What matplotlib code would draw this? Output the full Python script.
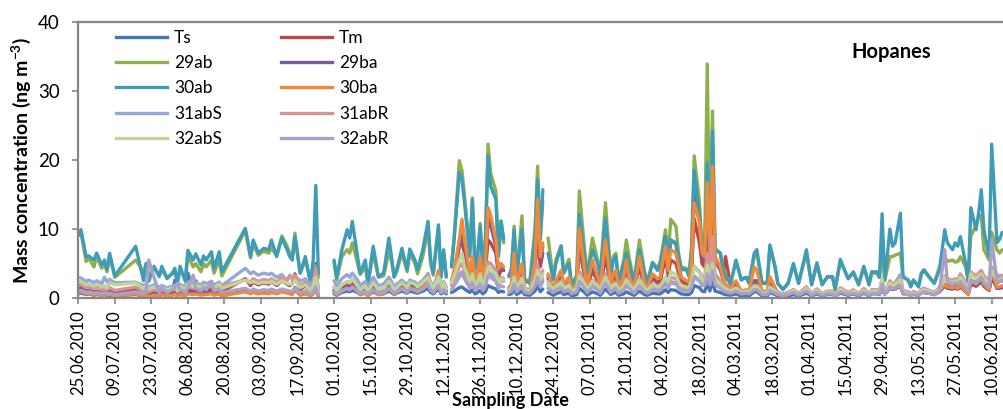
import numpy as np
import matplotlib
matplotlib.use("Agg")
import matplotlib.pyplot as plt
import matplotlib.dates as mdates
from matplotlib.lines import Line2D

nan = np.nan
start_date = "2010-06-25"

# sampling day offsets from 25.06.2010 (nan values mark gaps in the record)
day_offsets = [
    0, 1, 3, 4, 6, 7, 9, 10, 11, 12,
    14, 22, 25, 26, 27, 29, 31, 32, 34, 36,
    37, 38, 39, 41, 42, 44, 45, 47, 48, 49,
    51, 52, 54, 55, 64, 66, 67, 69, 71, 73,
    74, 76, 78, 80, 81, 82, 83, 85, 86, 87,
    89, 90, 91, 92, 95, 98, 99, 101, 103, 104,
    105, 107, 108, 110, 111, 113, 115, 117, 119, 120,
    121, 122, 124, 126, 127, 129, 130, 132, 134, 135,
    136, 138, 139, 140, 141, 142, 143, 144, 146, 147,
    148, 150, 151, 152, 153, 154, 155, 156, 157, 158,
    160, 161, 162, 163, 164, 165, 166, 167, 168, 170,
    171, 173, 175, 176, 177, 178, 179, 180, 182, 183,
    185, 186, 188, 189, 191, 192, 194, 195, 197, 199,
    200, 202, 204, 205, 206, 207, 209, 210, 211, 213,
    214, 215, 217, 218, 220, 222, 223, 225, 226, 227,
    229, 230, 231, 233, 234, 235, 236, 238, 239, 240,
    241, 242, 243, 244, 246, 247, 248, 250, 252, 254,
    256, 257, 259, 260, 262, 264, 265, 267, 268, 270,
    272, 274, 276, 279, 281, 283, 285, 287, 289, 290,
    292, 295, 297, 299, 301, 303, 304, 306, 307, 308,
    309, 311, 312, 313, 315, 316, 318, 319, 320, 322,
    323, 324, 326, 328, 330, 332, 333, 335, 336, 337,
    338, 340, 341, 342, 344, 345, 346, 347, 349, 350,
    352, 353, 354,
]

Ts = [
    0.6, 0.7, 0.5, 0.6, 0.4, 0.5, 0.4, 0.5, 0.3, 0.4,
    0.3, 0.5, 0.3, 0.4, 0.1, 0.3, 0.3, 0.5, 0.6, 0.8,
    2.6, 1.0, 1.5, 0.8, 3.6, 1.2, 2.5, 0.8, 1.2, 0.7,
    0.8, 0.5, 0.7, 0.4, 1.0, 0.7, 0.9, 0.7, 0.8, 0.8,
    0.9, 0.7, 1.0, 0.8, 0.7, 0.7, 1.1, 0.5, 0.6, 0.7,
    0.4, 0.6, 1.2, 0.3, nan, 0.6, 0.4, 0.8, 1.0, 0.9,
    1.1, 0.8, 0.5, 0.7, 0.4, 0.9, 0.5, 0.6, 1.0, 0.8,
    0.5, 0.7, 1.0, 0.7, 1.0, 0.8, 0.7, 1.0, 1.4, 0.8,
    0.6, 1.3, 0.6, 0.9, 0.6, nan, 0.8, 1.0, 1.5, 1.6,
    1.3, 0.8, 1.2, 0.6, 0.8, 1.1, 0.6, 0.9, 1.8, 1.6,
    1.3, 0.8, 1.0, 0.9, nan, 0.5, 0.6, 1.2, 0.5, 1.0,
    0.5, 0.4, 1.0, 1.8, 0.9, 1.3, nan, 0.8, 0.4, 0.6,
    0.9, 0.5, 0.7, 0.3, 0.5, 1.4, 0.8, 0.4, 0.9, 0.6,
    0.4, 1.3, 0.5, 0.7, 0.8, 0.4, 0.6, 0.9, 0.7, 0.4,
    0.7, 1.0, 0.5, 0.4, 0.7, 0.6, 0.6, 1.2, 0.8, 1.2,
    1.1, 0.8, 0.6, 0.5, 0.5, 0.8, 1.8, 1.5, 1.0, 0.9,
    2.2, 1.0, 2.5, 1.0, 0.8, 0.6, 0.5, 0.4, 0.6, 0.3,
    0.4, 0.3, 0.9, 0.9, 0.3, 0.3, 0.8, 0.5, 0.3, 0.2,
    0.3, 0.5, 0.3, 0.7, 0.3, 0.6, 0.3, 0.5, 0.5, 0.3,
    0.7, 0.4, 0.6, 0.3, 0.7, 0.3, 0.6, 0.6, 0.5, 1.5,
    0.5, 1.4, 1.2, 1.5, 3.0, 0.6, 0.6, 0.4, 0.6, 0.4,
    0.8, 0.9, 0.7, 0.5, 1.0, 2.0, 1.8, 1.5, 1.8, 1.6,
    2.0, 1.2, 2.5, 2.6, 2.2, 2.8, 3.2, 2.4, 1.5, 3.3,
    2.2, 2.4, 2.5,
]

Tm = [
    1.3, 1.5, 1.0, 1.1, 0.9, 1.0, 0.8, 0.9, 0.8, 1.0,
    0.7, 1.2, 0.6, 0.9, 0.6, 0.8, 0.7, 0.9, 0.6, 0.8,
    0.9, 0.6, 1.0, 0.7, 1.3, 1.1, 1.2, 1.0, 1.2, 1.1,
    1.3, 0.9, 1.3, 0.9, 2.8, 1.8, 2.3, 1.9, 2.2, 2.0,
    2.4, 1.8, 2.5, 2.0, 1.8, 2.0, 3.5, 1.2, 1.5, 1.8,
    0.8, 1.6, 5.0, 0.3, nan, 1.2, 0.8, 1.5, 2.0, 1.8,
    2.2, 1.4, 0.9, 1.3, 0.7, 1.8, 0.8, 1.0, 2.2, 1.6,
    0.9, 1.2, 2.0, 1.2, 2.2, 1.7, 1.3, 2.0, 3.5, 1.7,
    1.1, 3.2, 1.0, 2.0, 1.0, nan, 2.0, 3.5, 7.5, 8.0,
    6.5, 2.8, 5.0, 2.0, 2.8, 5.0, 2.0, 4.0, 8.4, 8.0,
    6.5, 3.2, 4.0, 4.0, nan, 1.2, 1.6, 4.5, 1.5, 4.0,
    1.2, 0.9, 4.0, 9.5, 4.5, 6.5, nan, 2.8, 1.0, 2.0,
    3.0, 1.6, 2.4, 0.9, 1.6, 7.5, 3.0, 1.4, 4.0, 2.4,
    1.2, 6.0, 1.6, 2.8, 3.0, 1.2, 2.4, 4.2, 2.5, 1.2,
    2.8, 4.5, 1.6, 1.2, 2.8, 2.2, 2.4, 6.0, 3.2, 5.5,
    5.0, 3.6, 2.4, 2.0, 1.8, 4.0, 11.5, 8.0, 5.0, 4.5,
    9.5, 5.0, 10.4, 5.5, 4.5, 3.0, 6.0, 1.6, 2.0, 1.0,
    1.0, 0.8, 2.0, 2.0, 0.8, 0.8, 1.8, 1.1, 0.7, 0.5,
    0.7, 0.9, 0.6, 1.2, 0.5, 0.9, 0.6, 0.8, 0.7, 0.4,
    1.0, 0.6, 0.8, 0.5, 0.8, 0.5, 0.8, 0.8, 0.7, 1.6,
    0.6, 1.5, 1.3, 1.3, 1.7, 0.7, 0.6, 0.5, 0.6, 0.5,
    0.8, 0.8, 0.7, 0.6, 0.9, 1.8, 1.4, 1.3, 1.4, 1.3,
    1.6, 1.0, 0.6, 2.0, 1.7, 2.0, 2.4, 1.7, 1.1, 3.0,
    1.4, 1.4, 1.5,
]

h29ab = [
    9.0, 9.5, 5.3, 5.8, 4.5, 6.0, 4.3, 5.0, 3.8, 6.0,
    3.0, 5.5, 3.8, 5.0, 3.0, 4.4, 3.3, 4.0, 3.0, 3.5,
    3.7, 2.5, 4.0, 2.8, 6.2, 4.5, 5.0, 3.8, 5.0, 4.5,
    5.5, 3.6, 5.5, 3.2, 9.8, 5.8, 7.8, 6.2, 6.8, 6.5,
    7.2, 6.2, 9.0, 7.5, 6.5, 6.0, 9.4, 3.6, 4.5, 5.6,
    2.3, 5.0, 4.5, 3.0, nan, 5.2, 2.6, 6.0, 7.0, 6.5,
    8.0, 5.0, 3.4, 4.5, 2.0, 6.5, 3.0, 3.2, 6.5, 5.5,
    3.0, 3.8, 6.5, 3.8, 6.5, 5.0, 3.5, 6.0, 10.0, 5.0,
    3.3, 10.0, 3.0, 6.5, 3.0, nan, 4.8, 8.8, 19.9, 18.5,
    14.8, 6.5, 14.5, 4.3, 6.2, 10.8, 4.2, 8.5, 22.3, 18.1,
    15.5, 6.5, 11.2, 8.0, nan, 3.3, 4.3, 10.4, 3.3, 11.9,
    2.8, 2.3, 10.0, 19.1, 8.5, 14.0, nan, 8.7, 2.8, 5.5,
    7.6, 3.7, 5.6, 1.9, 3.3, 15.5, 7.0, 3.3, 8.7, 5.5,
    3.3, 13.8, 3.5, 6.0, 6.5, 2.3, 5.5, 8.4, 6.0, 2.3,
    5.5, 8.4, 3.8, 2.3, 5.2, 4.3, 5.3, 9.9, 5.5, 11.4,
    10.4, 6.5, 4.5, 4.3, 3.3, 7.5, 20.6, 14.0, 7.2, 6.8,
    33.9, 7.2, 27.1, 7.2, 6.5, 4.5, 3.2, 2.3, 5.3, 2.8,
    3.0, 2.3, 6.0, 6.5, 2.2, 2.3, 7.5, 4.3, 2.2, 1.3,
    2.2, 4.8, 2.2, 6.5, 2.0, 4.8, 2.0, 3.0, 3.0, 1.3,
    5.3, 2.8, 3.6, 2.0, 4.4, 2.0, 3.6, 3.6, 3.0, 8.0,
    2.5, 6.0, 6.0, 6.2, 6.5, 3.0, 2.6, 1.8, 2.6, 1.8,
    3.4, 4.0, 3.0, 2.2, 4.5, 6.0, 5.3, 5.5, 5.2, 5.3,
    6.0, 4.5, 2.5, 9.0, 10.5, 11.8, 12.0, 7.0, 5.5, 9.5,
    7.0, 6.5, 7.0,
]

h29ba = [
    1.2, 1.3, 0.9, 1.0, 0.8, 0.9, 0.7, 0.8, 0.6, 0.8,
    0.5, 0.9, 0.5, 0.8, 0.5, 0.7, 0.5, 0.7, 0.5, 0.6,
    0.7, 0.4, 0.7, 0.5, 0.9, 0.8, 0.9, 0.7, 0.8, 0.8,
    0.9, 0.6, 0.9, 0.6, 1.2, 0.8, 1.1, 0.9, 1.0, 0.9,
    1.1, 0.8, 1.2, 1.0, 0.9, 0.8, 1.5, 0.6, 0.7, 0.8,
    0.5, 0.8, 2.0, 0.5, nan, 1.0, 0.6, 1.2, 1.6, 1.4,
    1.8, 1.1, 0.7, 1.0, 0.5, 1.4, 0.6, 0.8, 1.8, 1.3,
    0.8, 1.0, 1.8, 1.0, 1.9, 1.5, 1.1, 1.9, 3.2, 1.5,
    1.0, 3.5, 1.0, 2.0, 1.0, nan, 2.2, 3.5, 7.5, 9.5,
    7.5, 3.0, 5.5, 2.2, 3.0, 5.5, 2.2, 4.5, 11.5, 10.5,
    7.5, 3.8, 4.5, 4.0, nan, 1.4, 1.8, 5.5, 1.8, 4.5,
    1.4, 1.0, 4.5, 12.0, 5.5, 7.5, nan, 3.2, 1.2, 2.3,
    3.6, 1.8, 2.8, 1.0, 1.8, 9.0, 3.6, 1.6, 5.0, 2.8,
    1.4, 7.5, 1.8, 3.2, 3.6, 1.4, 2.8, 5.2, 3.0, 1.4,
    3.2, 5.5, 1.8, 1.4, 3.2, 2.6, 3.0, 8.9, 4.0, 8.4,
    7.8, 5.0, 3.0, 2.4, 2.0, 4.8, 16.2, 12.0, 6.0, 5.5,
    13.5, 6.0, 12.5, 5.5, 4.0, 2.8, 1.8, 1.4, 2.2, 0.9,
    1.1, 0.9, 2.5, 2.5, 0.9, 0.9, 2.2, 1.3, 0.8, 0.5,
    0.8, 1.1, 0.6, 1.3, 0.5, 1.1, 0.6, 0.8, 0.8, 0.4,
    1.1, 0.6, 0.8, 0.5, 0.9, 0.5, 0.8, 0.8, 0.7, 1.8,
    0.6, 1.6, 1.3, 1.4, 1.8, 0.7, 0.6, 0.4, 0.6, 0.4,
    0.8, 0.8, 0.7, 0.5, 0.9, 1.8, 1.5, 1.4, 1.5, 1.3,
    1.6, 0.9, 0.5, 2.2, 1.8, 2.2, 2.6, 1.8, 1.1, 3.5,
    1.5, 1.5, 1.6,
]

h30ab = [
    9.2, 9.9, 6.0, 6.1, 5.5, 6.5, 4.8, 5.5, 4.1, 6.5,
    3.2, 7.5, 2.5, 5.0, 2.4, 4.6, 3.1, 4.6, 2.8, 3.6,
    4.3, 2.1, 4.6, 2.4, 6.9, 5.5, 6.4, 4.8, 6.1, 5.5,
    6.7, 4.3, 6.7, 3.8, 10.1, 6.0, 8.4, 6.5, 7.2, 7.0,
    8.4, 6.0, 8.7, 7.0, 6.0, 5.5, 8.9, 3.6, 4.8, 6.0,
    2.1, 5.5, 16.3, 3.5, nan, 5.5, 2.9, 7.0, 9.9, 8.7,
    11.1, 6.0, 3.6, 5.5, 2.1, 7.5, 3.1, 3.6, 8.7, 6.0,
    3.1, 4.1, 7.2, 4.1, 7.1, 5.5, 4.1, 7.0, 11.1, 5.5,
    3.6, 10.6, 3.1, 7.0, 3.1, nan, 4.5, 8.4, 18.2, 17.2,
    13.8, 6.0, 14.3, 4.1, 6.0, 10.4, 4.1, 8.4, 20.6, 16.2,
    14.3, 6.0, 11.1, 8.5, nan, 3.1, 4.1, 9.9, 3.1, 10.0,
    2.6, 2.1, 9.0, 17.2, 8.4, 15.7, nan, 6.5, 2.6, 5.0,
    7.5, 3.6, 5.0, 1.7, 3.1, 12.1, 6.0, 3.1, 7.0, 5.0,
    3.1, 11.6, 3.1, 5.5, 6.0, 2.1, 5.0, 6.5, 5.0, 2.1,
    5.0, 7.0, 3.6, 2.1, 5.0, 4.0, 5.0, 8.9, 5.0, 8.4,
    8.0, 6.0, 4.1, 4.1, 3.1, 7.0, 18.5, 12.0, 7.0, 6.5,
    19.6, 7.0, 24.2, 7.0, 6.5, 4.1, 3.0, 2.1, 5.5, 2.6,
    3.0, 2.1, 6.5, 7.0, 2.1, 2.1, 7.7, 4.6, 2.1, 1.2,
    2.1, 5.0, 2.1, 7.0, 1.9, 5.1, 1.9, 3.1, 3.1, 1.2,
    5.6, 2.8, 3.8, 1.9, 4.6, 1.9, 3.8, 3.8, 3.0, 12.2,
    2.5, 10.0, 7.5, 8.0, 12.3, 3.1, 2.6, 1.6, 2.6, 1.6,
    3.6, 4.1, 3.1, 2.1, 4.1, 9.9, 8.0, 7.0, 8.0, 7.5,
    8.9, 5.0, 2.5, 13.1, 9.9, 12.3, 15.7, 9.9, 6.0, 22.3,
    8.0, 8.5, 9.5,
]

h30ba = [
    0.8, 0.9, 0.6, 0.7, 0.5, 0.6, 0.4, 0.6, 0.4, 0.5,
    0.3, 0.6, 0.3, 0.5, 0.2, 0.4, 0.3, 0.5, 0.3, 0.4,
    0.5, 0.2, 0.5, 0.3, 0.6, 0.5, 0.6, 0.4, 0.5, 0.5,
    0.6, 0.4, 0.6, 0.3, 0.9, 0.6, 0.8, 0.6, 0.7, 0.6,
    0.8, 0.6, 0.9, 0.7, 0.6, 0.5, 1.2, 0.4, 0.5, 0.6,
    0.3, 0.6, 1.5, 0.3, nan, 0.8, 0.5, 1.0, 1.4, 1.2,
    1.6, 0.9, 0.5, 0.8, 0.3, 1.1, 0.5, 0.6, 1.4, 1.0,
    0.6, 0.8, 1.4, 0.8, 1.5, 1.2, 0.9, 1.6, 3.0, 1.3,
    0.9, 4.0, 0.8, 1.8, 0.8, nan, 2.5, 4.0, 8.5, 11.4,
    8.5, 3.5, 6.0, 2.5, 3.5, 6.0, 2.5, 5.0, 13.1, 12.0,
    8.4, 4.2, 5.0, 4.5, nan, 1.5, 2.0, 6.5, 2.0, 5.0,
    1.5, 1.0, 5.0, 14.3, 6.0, 8.0, nan, 3.5, 1.2, 2.5,
    4.0, 2.0, 3.0, 1.0, 2.0, 10.1, 4.0, 1.8, 5.5, 3.0,
    1.5, 8.4, 2.0, 3.5, 4.0, 1.5, 3.0, 5.5, 3.0, 1.5,
    3.5, 6.0, 2.0, 1.5, 3.5, 2.8, 3.0, 7.5, 4.0, 7.0,
    6.5, 4.5, 3.0, 2.5, 2.2, 5.0, 13.8, 11.0, 6.5, 6.0,
    16.7, 6.5, 19.1, 6.0, 4.5, 3.0, 2.0, 1.5, 2.5, 1.0,
    1.2, 1.0, 4.5, 4.0, 1.0, 1.0, 3.1, 1.5, 0.8, 0.5,
    0.8, 1.2, 0.6, 1.5, 0.5, 1.2, 0.6, 0.9, 0.8, 0.4,
    1.2, 0.6, 0.9, 0.5, 1.0, 0.5, 0.9, 0.9, 0.7, 2.0,
    0.6, 1.8, 1.5, 1.6, 2.0, 0.7, 0.6, 0.4, 0.6, 0.4,
    0.8, 0.9, 0.7, 0.5, 1.0, 2.0, 1.6, 1.5, 1.6, 1.4,
    1.8, 1.0, 0.5, 2.5, 2.0, 2.4, 3.0, 2.0, 1.2, 4.0,
    1.6, 1.6, 1.8,
]

h31abS = [
    3.0, 2.9, 2.4, 2.6, 2.2, 2.5, 2.1, 3.0, 2.3, 2.7,
    2.2, 2.3, 1.8, 2.0, 1.6, 1.9, 1.6, 1.8, 1.5, 1.7,
    1.9, 1.5, 2.0, 1.6, 2.3, 2.0, 2.2, 1.9, 2.3, 2.1,
    2.4, 1.9, 2.3, 1.8, 4.3, 3.5, 3.8, 3.3, 3.6, 3.4,
    3.6, 3.0, 3.4, 2.5, 3.2, 3.0, 3.2, 2.5, 2.6, 2.8,
    1.8, 2.6, 3.5, 1.5, nan, 2.5, 1.8, 2.8, 3.4, 3.0,
    3.6, 2.6, 1.8, 2.4, 1.5, 3.0, 1.8, 2.0, 3.0, 2.4,
    1.7, 2.0, 2.6, 1.9, 2.6, 2.3, 1.9, 2.6, 3.5, 2.3,
    1.8, 3.2, 1.6, 2.4, 1.6, nan, 1.8, 2.2, 3.5, 3.8,
    3.2, 2.0, 3.0, 1.6, 2.0, 2.8, 1.6, 2.4, 3.8, 3.5,
    3.0, 2.0, 2.6, 2.4, nan, 1.4, 1.6, 2.6, 1.4, 2.4,
    1.3, 1.2, 2.2, 3.5, 2.0, 2.8, nan, 2.0, 1.2, 1.6,
    2.0, 1.3, 1.7, 0.9, 1.3, 2.8, 1.8, 1.2, 2.1, 1.6,
    1.1, 2.6, 1.2, 1.7, 1.8, 1.0, 1.6, 2.0, 1.6, 1.0,
    1.6, 2.2, 1.2, 1.0, 1.6, 1.4, 1.5, 2.4, 1.7, 2.4,
    2.2, 1.8, 1.4, 1.3, 1.2, 1.8, 3.2, 2.6, 2.0, 1.8,
    3.5, 2.0, 3.8, 2.0, 1.8, 1.4, 1.2, 1.0, 1.5, 0.9,
    1.0, 0.9, 1.8, 1.8, 0.8, 0.8, 1.6, 1.1, 0.7, 0.5,
    0.7, 1.2, 0.6, 1.6, 0.6, 1.3, 0.6, 0.9, 0.9, 0.5,
    1.4, 0.8, 1.1, 0.6, 1.3, 0.6, 1.1, 1.2, 1.0, 2.5,
    0.8, 2.4, 2.0, 2.2, 3.4, 1.0, 0.9, 0.6, 0.9, 0.6,
    1.2, 1.4, 1.1, 0.8, 1.5, 3.0, 2.6, 2.5, 2.6, 2.5,
    3.5, 2.2, 1.5, 3.6, 3.2, 3.6, 3.8, 3.2, 2.5, 4.5,
    3.4, 3.2, 3.3,
]

h31abR = [
    1.8, 2.0, 1.5, 1.6, 1.4, 1.6, 1.3, 1.5, 1.2, 1.5,
    1.1, 1.6, 1.0, 1.3, 0.9, 1.2, 1.0, 1.2, 1.0, 1.2,
    1.4, 0.9, 1.4, 1.0, 1.7, 1.4, 1.6, 1.3, 1.6, 1.5,
    1.7, 1.3, 1.7, 1.8, 2.6, 2.3, 2.8, 2.4, 2.7, 2.5,
    2.8, 2.3, 3.0, 2.6, 3.3, 2.8, 3.3, 1.8, 2.0, 2.3,
    1.0, 2.0, 4.3, 0.8, nan, 1.6, 1.1, 1.9, 2.4, 2.2,
    2.7, 1.8, 1.2, 1.7, 1.0, 2.2, 1.2, 1.4, 2.4, 1.9,
    1.2, 1.5, 2.2, 1.5, 2.3, 2.0, 1.6, 2.3, 3.2, 2.0,
    1.4, 3.0, 1.3, 2.2, 1.3, nan, 2.0, 2.8, 4.5, 5.0,
    4.0, 2.2, 3.5, 1.8, 2.2, 3.2, 1.8, 2.8, 5.2, 5.0,
    4.0, 2.4, 3.0, 2.8, nan, 1.2, 1.6, 3.2, 1.4, 3.0,
    1.3, 1.1, 3.0, 4.8, 2.8, 4.0, nan, 2.4, 1.2, 1.8,
    2.5, 1.5, 2.0, 1.0, 1.5, 3.8, 2.2, 1.3, 2.6, 1.9,
    1.2, 3.5, 1.4, 2.0, 2.2, 1.1, 1.9, 2.8, 2.2, 1.2,
    2.0, 2.8, 1.5, 1.2, 2.0, 1.7, 1.8, 3.0, 2.2, 3.0,
    2.8, 2.2, 1.7, 1.5, 1.5, 2.5, 4.6, 3.8, 3.0, 3.0,
    6.5, 3.2, 8.9, 3.5, 2.5, 2.0, 1.6, 1.2, 1.5, 0.9,
    1.0, 0.8, 1.8, 1.8, 0.8, 0.8, 1.6, 1.1, 0.7, 0.5,
    0.7, 1.2, 0.6, 1.6, 0.6, 1.3, 0.6, 1.0, 1.0, 0.5,
    1.5, 0.8, 1.2, 0.6, 1.4, 0.6, 1.2, 1.2, 1.0, 2.8,
    0.8, 2.5, 2.0, 2.2, 2.8, 1.0, 0.9, 0.6, 0.9, 0.6,
    1.2, 1.4, 1.0, 0.8, 1.5, 3.2, 2.8, 2.6, 2.8, 2.6,
    3.4, 2.2, 1.4, 3.8, 3.2, 3.6, 4.0, 3.2, 2.4, 4.2,
    3.0, 3.0, 3.2,
]

h32abS = [
    2.3, 2.4, 1.9, 2.0, 1.7, 2.0, 1.6, 1.8, 1.5, 2.2,
    1.9, 2.2, 1.4, 1.8, 1.3, 1.6, 1.3, 1.5, 1.2, 1.4,
    1.6, 1.1, 1.7, 1.2, 2.0, 1.7, 1.9, 1.5, 1.8, 1.7,
    2.0, 1.5, 2.0, 1.4, 2.6, 2.2, 2.4, 2.1, 2.3, 2.2,
    2.4, 2.0, 2.5, 2.1, 2.0, 2.0, 2.6, 1.5, 1.7, 1.9,
    1.0, 1.8, 3.0, 0.9, nan, 1.6, 1.1, 1.9, 2.4, 2.2,
    2.7, 1.8, 1.2, 1.7, 1.0, 2.2, 1.2, 1.4, 2.4, 1.9,
    1.2, 1.5, 2.2, 1.5, 2.3, 2.0, 1.6, 2.3, 3.0, 2.0,
    1.4, 3.0, 1.3, 2.2, 1.3, nan, 2.2, 3.2, 5.5, 6.5,
    4.5, 2.4, 3.5, 1.8, 2.2, 3.5, 1.8, 2.8, 4.5, 4.2,
    3.5, 2.2, 2.8, 2.6, nan, 1.2, 1.5, 3.0, 1.3, 2.8,
    1.2, 1.0, 2.6, 4.0, 2.5, 3.5, nan, 2.2, 1.1, 1.7,
    2.2, 1.4, 1.8, 0.9, 1.4, 3.2, 2.0, 1.2, 2.4, 1.8,
    1.1, 3.0, 1.3, 1.9, 2.0, 1.0, 1.8, 2.6, 2.0, 1.1,
    1.9, 2.6, 1.4, 1.1, 1.9, 1.6, 1.7, 3.0, 2.2, 3.8,
    3.4, 2.4, 1.8, 1.6, 1.5, 2.4, 4.5, 3.6, 2.6, 2.5,
    4.8, 2.6, 5.0, 2.6, 2.0, 1.6, 1.3, 1.0, 1.4, 0.8,
    1.0, 0.8, 1.7, 1.6, 0.7, 0.7, 1.5, 1.0, 0.6, 0.4,
    0.6, 1.1, 0.5, 1.4, 0.5, 1.1, 0.5, 0.8, 0.8, 0.4,
    1.3, 0.6, 1.0, 0.5, 1.1, 0.5, 1.0, 1.0, 0.9, 2.8,
    0.6, 2.2, 1.8, 2.0, 2.6, 0.8, 0.7, 0.5, 0.7, 0.5,
    1.0, 1.2, 0.9, 0.7, 1.3, 3.0, 2.5, 2.3, 2.5, 2.3,
    3.0, 1.8, 1.2, 3.5, 2.8, 3.2, 3.5, 2.8, 2.0, 4.0,
    2.6, 2.6, 2.8,
]

h32abR = [
    1.0, 1.1, 0.8, 0.9, 0.7, 0.8, 0.6, 0.8, 0.6, 0.7,
    0.5, 0.9, 0.6, 1.0, 5.5, 3.0, 0.8, 1.5, 0.8, 1.2,
    1.5, 2.1, 1.2, 0.8, 1.5, 3.3, 1.4, 1.0, 1.6, 1.2,
    2.4, 1.0, 1.3, 0.8, 1.4, 1.0, 1.3, 1.0, 1.2, 1.1,
    1.3, 1.0, 1.3, 1.1, 1.0, 1.0, 1.4, 0.8, 0.9, 1.0,
    0.6, 0.9, 1.6, 0.5, nan, 0.9, 0.6, 1.1, 1.4, 1.2,
    1.6, 1.0, 0.7, 0.9, 0.6, 1.2, 0.7, 0.8, 1.4, 1.1,
    0.7, 0.9, 1.3, 0.9, 1.4, 1.1, 0.9, 1.3, 2.0, 1.1,
    0.8, 1.8, 0.8, 1.2, 0.8, nan, 1.2, 1.8, 3.0, 3.5,
    2.8, 1.4, 2.2, 1.1, 1.4, 2.0, 1.1, 1.7, 3.2, 3.0,
    2.4, 1.4, 1.8, 1.6, nan, 0.8, 1.0, 2.0, 0.9, 1.8,
    0.8, 0.7, 1.7, 3.0, 1.6, 2.4, nan, 1.4, 0.8, 1.1,
    1.5, 0.9, 1.2, 0.6, 0.9, 2.4, 1.4, 0.8, 1.6, 1.2,
    0.7, 2.2, 0.8, 1.2, 1.4, 0.7, 1.2, 1.8, 1.4, 0.7,
    1.2, 1.8, 0.9, 0.7, 1.2, 1.0, 1.1, 2.0, 1.5, 2.2,
    2.0, 1.5, 1.1, 1.0, 1.0, 1.6, 3.0, 2.4, 1.8, 1.8,
    3.5, 1.9, 4.0, 1.9, 1.4, 1.1, 0.9, 0.7, 1.0, 0.6,
    0.7, 0.6, 1.2, 1.2, 0.5, 0.5, 1.1, 0.7, 0.5, 0.3,
    0.5, 0.8, 0.4, 1.0, 0.4, 0.8, 0.4, 0.6, 0.6, 0.3,
    0.9, 0.5, 0.7, 0.4, 0.8, 0.4, 0.7, 0.7, 0.6, 2.0,
    0.5, 1.6, 1.3, 1.4, 1.8, 0.6, 0.5, 0.4, 0.5, 0.4,
    0.7, 0.9, 0.7, 0.5, 1.0, 7.0, 2.4, 2.0, 2.2, 2.0,
    2.4, 1.5, 1.0, 2.6, 2.2, 2.6, 3.0, 2.2, 1.6, 8.5,
    2.4, 2.4, 2.6,
]

series_names = ["Ts", "Tm", "29ab", "29ba", "30ab", "30ba",
                "31abS", "31abR", "32abS", "32abR"]
series_values = [Ts, Tm, h29ab, h29ba, h30ab, h30ba,
                 h31abS, h31abR, h32abS, h32abR]
series_colors = ["#4677B4", "#B8474A", "#8DB04C", "#7A5C9C", "#3F9CB8",
                 "#EE8A3A", "#93A9D8", "#D89492", "#BFD499", "#ABA0C8"]

tick_step_days = 14
n_ticks = 26

# ---------------------------------------------------------------
for v in series_values:
    assert len(v) == len(day_offsets)

plt.rcParams["font.family"] = ["Lato", "DejaVu Sans"]
plt.rcParams["mathtext.default"] = "regular"

W, H = 1004, 409
fig = plt.figure(figsize=(W / 100, H / 100), dpi=100)
ax = fig.add_axes([78.3 / W, 1 - 298 / H, 1 - 78.3 / W, (298 - 22) / H])

t0 = np.datetime64(start_date)
x = t0 + np.array(day_offsets).astype("timedelta64[D]")

for name, vals, col in zip(series_names, series_values, series_colors):
    ax.plot(x, vals, color=col, lw=2.4, solid_joinstyle="round",
            solid_capstyle="round", label=name)

ax.set_ylim(0, 40)
ax.set_yticks([0, 10, 20, 30, 40])
ax.set_xlim(t0, t0 + np.timedelta64(355, "D") - np.timedelta64(7, "h"))
ticks = [t0 + np.timedelta64(i * tick_step_days, "D") for i in range(n_ticks)]
ax.set_xticks(ticks)
ax.xaxis.set_major_formatter(mdates.DateFormatter("%d.%m.%Y"))
for lab in ax.get_xticklabels():
    lab.set_rotation(90)

spine_col = "#868686"
for s in ["left", "bottom", "top"]:
    ax.spines[s].set_color(spine_col)
    ax.spines[s].set_linewidth(1.6)
ax.spines["right"].set_visible(False)
ax.tick_params(axis="both", direction="out", color=spine_col, width=1.2,
               length=4.5)
ax.tick_params(axis="y", labelsize=13.5, pad=9)
ax.tick_params(axis="x", labelsize=12.0, pad=4)

ax.set_ylabel("Mass concentration (ng m$^{-3}$)", fontsize=14,
              fontweight="bold")
ax.yaxis.set_label_coords(-(78.3 - 33) / (W - 78.3), 0.5)
fig.text(510 / W, 0.0, "Sampling Date", fontsize=13,
         fontweight="bold", ha="center", va="bottom")
fig.text(891 / W, 1 - 52 / H, "Hopanes", fontsize=14.5,
         fontweight="bold", ha="center", va="center")

# legend in row order: Ts, Tm / 29ab, 29ba / ...
handles = {n: Line2D([], [], color=c, lw=2.4) for n, c in
           zip(series_names, series_colors)}
order = ["Ts", "29ab", "30ab", "31abS", "32abS",
         "Tm", "29ba", "30ba", "31abR", "32abR"]
leg = fig.legend([handles[n] for n in order], order, ncol=2,
                 loc="upper left", bbox_to_anchor=(116 / W, 1 - 30 / H),
                 frameon=False, fontsize=12.5, handlelength=2.95,
                 handletextpad=0.4, columnspacing=3.4, labelspacing=0.53,
                 borderaxespad=0, borderpad=0)

fig.savefig("out.png", dpi=100)
